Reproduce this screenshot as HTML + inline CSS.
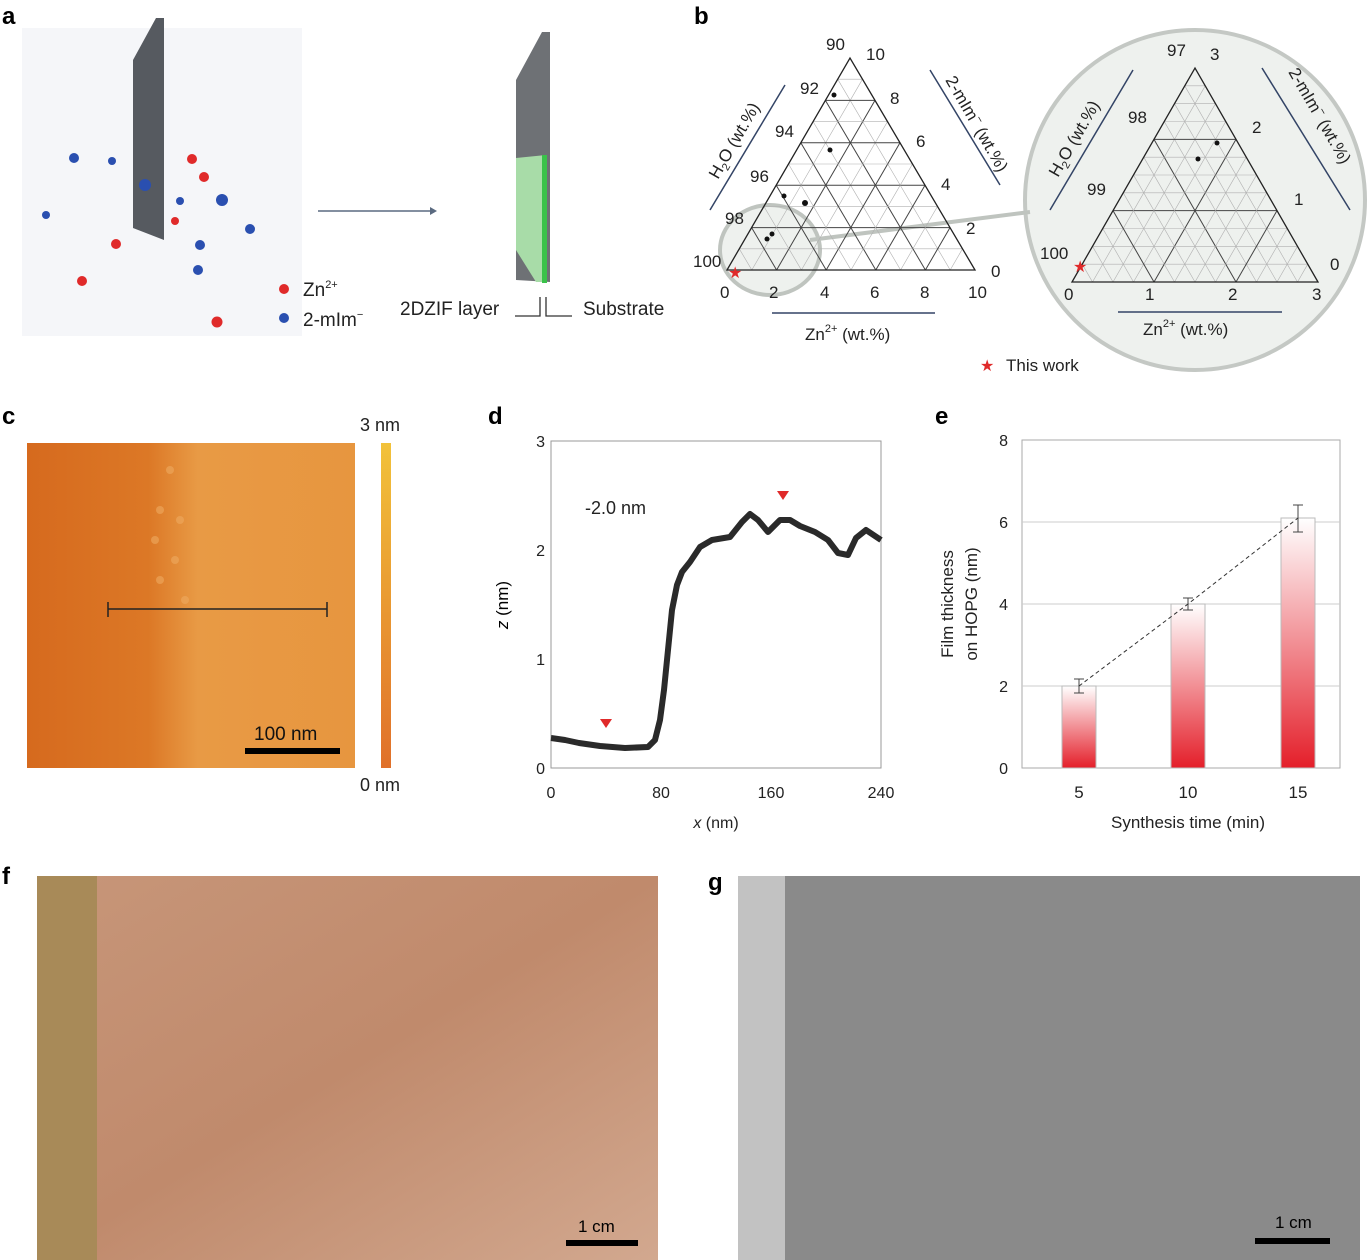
<!DOCTYPE html>
<html><head><meta charset="utf-8"><style>
body{margin:0;background:#fff;}
svg{display:block;font-family:"Liberation Sans",sans-serif;}
</style></head><body>
<svg id="s" width="1370" height="1260" viewBox="0 0 1370 1260" xmlns="http://www.w3.org/2000/svg">
<defs>
<linearGradient id="cb" x1="0" y1="0" x2="0" y2="1"><stop offset="0" stop-color="#f2c23a"/><stop offset="1" stop-color="#e0702a"/></linearGradient>
<linearGradient id="bar" x1="0" y1="0" x2="0" y2="1"><stop offset="0" stop-color="#fff"/><stop offset="1" stop-color="#e41f2a"/></linearGradient>
<linearGradient id="afm" x1="0" y1="0" x2="1" y2="0"><stop offset="0" stop-color="#d66a1e"/><stop offset="0.37" stop-color="#dc7826"/><stop offset="0.52" stop-color="#e89a45"/><stop offset="1" stop-color="#e7963f"/></linearGradient>
<linearGradient id="wood" x1="0" y1="0" x2="1" y2="1"><stop offset="0" stop-color="#c79679"/><stop offset="0.5" stop-color="#c08a6c"/><stop offset="1" stop-color="#d2a88f"/></linearGradient>
</defs>
<!-- panel a -->
<rect x="22" y="28" width="280" height="308" fill="#f5f6f9"/>
<polygon points="133,60 156,18 164,18 164,240 133,228" fill="#565a60"/>
<polygon points="516,80 542,32 550,32 550,282 516,280" fill="#6e7175"/>
<polygon points="516,158 546,155 546,282 536,282 516,250" fill="#a8dca8"/>
<rect x="542" y="155" width="5" height="128" fill="#3ac24a"/>
<line x1="318" y1="211" x2="430" y2="211" stroke="#5a6a80" stroke-width="1.5"/><polygon points="430,207 437,211 430,215" fill="#5a6a80"/>
<g fill="#e02a2a"><circle cx="192" cy="159" r="5"/><circle cx="204" cy="177" r="5"/><circle cx="175" cy="221" r="4"/><circle cx="116" cy="244" r="5"/><circle cx="82" cy="281" r="5"/><circle cx="217" cy="322" r="5.5"/><circle cx="284" cy="289" r="5"/></g>
<g fill="#2a4fb0"><circle cx="74" cy="158" r="5"/><circle cx="112" cy="161" r="4"/><circle cx="145" cy="185" r="6"/><circle cx="180" cy="201" r="4"/><circle cx="222" cy="200" r="6"/><circle cx="250" cy="229" r="5"/><circle cx="200" cy="245" r="5"/><circle cx="198" cy="270" r="5"/><circle cx="46" cy="215" r="4"/><circle cx="284" cy="318" r="5"/></g>
<g font-size="19" fill="#222">
<text x="303" y="296">Zn<tspan font-size="11" dy="-8">2+</tspan></text>
<text x="303" y="326">2-mIm<tspan font-size="11" dy="-8">−</tspan></text>
<text x="400" y="315">2DZIF layer</text><text x="583" y="315">Substrate</text>
</g>
<path d="M515,316 H540 V297 M546,297 V316 H572" stroke="#333" fill="none" stroke-width="1.3"/>
<!-- panel b -->
<ellipse cx="1195" cy="200" rx="170" ry="170" fill="#eef1ee" stroke="#c4c8c4" stroke-width="4"/>
<ellipse cx="770" cy="250" rx="50" ry="45" fill="#eef1ee" stroke="#bfc4bf" stroke-width="4"/>
<path d="M810,240 L1030,212" stroke="#bfc4bf" stroke-width="4"/>
<g id="t1"></g><g id="t2"></g>
<g font-size="17" fill="#222">
<text x="826" y="50">90</text><text x="866" y="60">10</text><text x="800" y="94">92</text><text x="775" y="137">94</text><text x="750" y="182">96</text><text x="725" y="224">98</text><text x="693" y="267">100</text>
<text x="890" y="104">8</text><text x="916" y="147">6</text><text x="941" y="190">4</text><text x="966" y="234">2</text><text x="991" y="277">0</text>
<text x="720" y="298">0</text><text x="769" y="298">2</text><text x="820" y="298">4</text><text x="870" y="298">6</text><text x="920" y="298">8</text><text x="968" y="298">10</text>
<text x="805" y="340">Zn<tspan font-size="11" dy="-8">2+</tspan><tspan dy="8"> (wt.%)</tspan></text>
<text x="1167" y="56">97</text><text x="1210" y="60">3</text><text x="1128" y="123">98</text><text x="1252" y="133">2</text><text x="1087" y="195">99</text><text x="1294" y="205">1</text><text x="1040" y="259">100</text><text x="1330" y="270">0</text>
<text x="1064" y="300">0</text><text x="1145" y="300">1</text><text x="1228" y="300">2</text><text x="1312" y="300">3</text>
<text x="1143" y="335">Zn<tspan font-size="11" dy="-8">2+</tspan><tspan dy="8"> (wt.%)</tspan></text>
<text x="1006" y="371">This work</text>
<text transform="translate(718,180) rotate(-60)">H<tspan font-size="11" dy="4">2</tspan><tspan dy="-4">O (wt.%)</tspan></text>
<text transform="translate(945,80) rotate(60)">2-mIm<tspan font-size="11" dy="-7">−</tspan><tspan dy="7"> (wt.%)</tspan></text>
<text transform="translate(1058,178) rotate(-60)">H<tspan font-size="11" dy="4">2</tspan><tspan dy="-4">O (wt.%)</tspan></text>
<text transform="translate(1288,72) rotate(60)">2-mIm<tspan font-size="11" dy="-7">−</tspan><tspan dy="7"> (wt.%)</tspan></text>
</g>
<g stroke="#334466" stroke-width="1.5"><line x1="785" y1="85" x2="710" y2="210"/><line x1="930" y1="70" x2="1000" y2="185"/><line x1="772" y1="313" x2="935" y2="313"/>
<line x1="1133" y1="70" x2="1050" y2="210"/><line x1="1262" y1="68" x2="1350" y2="210"/><line x1="1118" y1="312" x2="1282" y2="312"/></g>
<text x="980" y="371" fill="#e02a2a" font-size="16">★</text>
<text x="728" y="278" fill="#e02a2a" font-size="16">★</text>
<text x="1073" y="272" fill="#e02a2a" font-size="16">★</text>
<g fill="#111"><circle cx="834" cy="95" r="2.5"/><circle cx="830" cy="150" r="2.5"/><circle cx="784" cy="196" r="2.5"/><circle cx="805" cy="203" r="3"/><circle cx="772" cy="234" r="2.5"/><circle cx="767" cy="239" r="2.5"/><circle cx="1217" cy="143" r="2.5"/><circle cx="1198" cy="159" r="2.5"/></g>
<!-- panel labels -->
<g font-size="24" font-weight="bold" fill="#000"><text x="2" y="24">a</text><text x="694" y="24">b</text><text x="2" y="424">c</text><text x="488" y="424">d</text><text x="935" y="424">e</text><text x="2" y="884">f</text><text x="708" y="890">g</text></g>
<!-- panel c -->
<rect x="27" y="443" width="328" height="325" fill="url(#afm)"/>
<g fill="#eeaa60" opacity="0.6"><circle cx="160" cy="510" r="4"/><circle cx="180" cy="520" r="4"/><circle cx="155" cy="540" r="4"/><circle cx="175" cy="560" r="4"/><circle cx="160" cy="580" r="4"/><circle cx="185" cy="600" r="4"/><circle cx="170" cy="470" r="4"/></g>
<path d="M108,602 V617 M108,609 H327 M327,602 V617" stroke="#222" stroke-width="1.5"/>
<rect x="245" y="748" width="95" height="6" fill="#000"/>
<text x="254" y="740" font-size="19" fill="#111">100 nm</text>
<rect x="381" y="443" width="10" height="325" fill="url(#cb)"/>
<g font-size="18" fill="#222"><text x="360" y="431">3 nm</text><text x="360" y="791">0 nm</text></g>
<!-- panel d -->
<rect x="551" y="441" width="330" height="327" fill="none" stroke="#999"/>
<g font-size="16" fill="#222" text-anchor="middle"><text x="545" y="447" text-anchor="end">3</text><text x="545" y="556" text-anchor="end">2</text><text x="545" y="665" text-anchor="end">1</text><text x="545" y="774" text-anchor="end">0</text>
<text x="551" y="798">0</text><text x="661" y="798">80</text><text x="771" y="798">160</text><text x="881" y="798">240</text>
<text x="716" y="828" font-style="italic">x <tspan font-style="normal">(nm)</tspan></text></g>
<text transform="translate(508,605) rotate(-90)" font-size="17" text-anchor="middle"><tspan font-style="italic">z</tspan> (nm)</text>
<text x="585" y="514" font-size="18" fill="#222">-2.0 nm</text>
<polyline points="551,738 565,740 579,743 600,746 625,748 648,747 655,740 660,720 664,690 668,650 672,610 677,585 682,572 690,562 700,547 712,540 730,537 742,522 750,514 758,520 768,532 780,520 790,520 800,526 815,532 828,540 838,553 848,555 856,538 866,530 881,540" fill="none" stroke="#2a2a2a" stroke-width="6" stroke-linejoin="round"/>
<polygon points="600,719 612,719 606,728" fill="#e02a2a"/><polygon points="777,491 789,491 783,500" fill="#e02a2a"/>
<!-- panel e -->
<rect x="1022" y="440" width="318" height="328" fill="none" stroke="#aaa"/>
<g stroke="#ccc"><line x1="1022" y1="522" x2="1340" y2="522"/><line x1="1022" y1="604" x2="1340" y2="604"/><line x1="1022" y1="686" x2="1340" y2="686"/></g>
<rect x="1062" y="686" width="34" height="82" fill="url(#bar)" stroke="#bbb"/>
<rect x="1171" y="604" width="34" height="164" fill="url(#bar)" stroke="#bbb"/>
<rect x="1281" y="518" width="34" height="250" fill="url(#bar)" stroke="#bbb"/>
<g stroke="#444" fill="none"><path d="M1079,679 V693 M1074,679 H1084 M1074,693 H1084"/><path d="M1188,598 V610 M1183,598 H1193 M1183,610 H1193"/><path d="M1298,505 V532 M1293,505 H1303 M1293,532 H1303"/></g>
<polyline points="1079,686 1188,604 1298,518" fill="none" stroke="#333" stroke-dasharray="4,3"/>
<g font-size="16" fill="#222" text-anchor="end"><text x="1008" y="446">8</text><text x="1008" y="528">6</text><text x="1008" y="610">4</text><text x="1008" y="692">2</text><text x="1008" y="774">0</text></g>
<g font-size="17" fill="#222" text-anchor="middle"><text x="1079" y="798">5</text><text x="1188" y="798">10</text><text x="1298" y="798">15</text><text x="1188" y="828">Synthesis time (min)</text>
<text transform="translate(953,604) rotate(-90)">Film thickness</text><text transform="translate(977,604) rotate(-90)">on HOPG (nm)</text></g>
<!-- panel f -->
<rect x="37" y="876" width="621" height="384" fill="url(#wood)"/>
<rect x="37" y="876" width="60" height="384" fill="#a88a58"/>
<rect x="566" y="1240" width="72" height="6" fill="#000"/><text x="578" y="1232" font-size="17" fill="#000">1 cm</text>
<!-- panel g -->
<rect x="738" y="876" width="622" height="384" fill="#8a8a8a"/>
<rect x="738" y="876" width="47" height="384" fill="#c2c2c2"/>
<rect x="1255" y="1238" width="75" height="6" fill="#000"/><text x="1275" y="1228" font-size="17" fill="#000">1 cm</text>
</svg>
<script>
function L(a,b,c,w){return '<line x1="'+a[0]+'" y1="'+a[1]+'" x2="'+b[0]+'" y2="'+b[1]+'" stroke="'+c+'" stroke-width="'+w+'"/>';}
function P(a,b,t){return [a[0]+(b[0]-a[0])*t,a[1]+(b[1]-a[1])*t];}
function tri2(id,A,B,C,n,major){
 var s='';
 for(var i=1;i<n;i++){var t=i/n,c=(i%major==0)?'#444':'#b0b0b0',w=(i%major==0)?1:0.6;
  s+=L(P(A,C,t),P(B,C,t),c,w);
  s+=L(P(A,B,t),P(C,B,t),c,w);
  s+=L(P(B,A,t),P(C,A,t),c,w);}
 s+='<polygon points="'+A+' '+B+' '+C+'" fill="none" stroke="#222" stroke-width="1.3"/>';
 document.getElementById(id).innerHTML=s;
}
tri2('t1',[727,270],[975,270],[850,58],10,2);
tri2('t2',[1072,282],[1318,282],[1195,68],12,4);
</script>
</body></html>
